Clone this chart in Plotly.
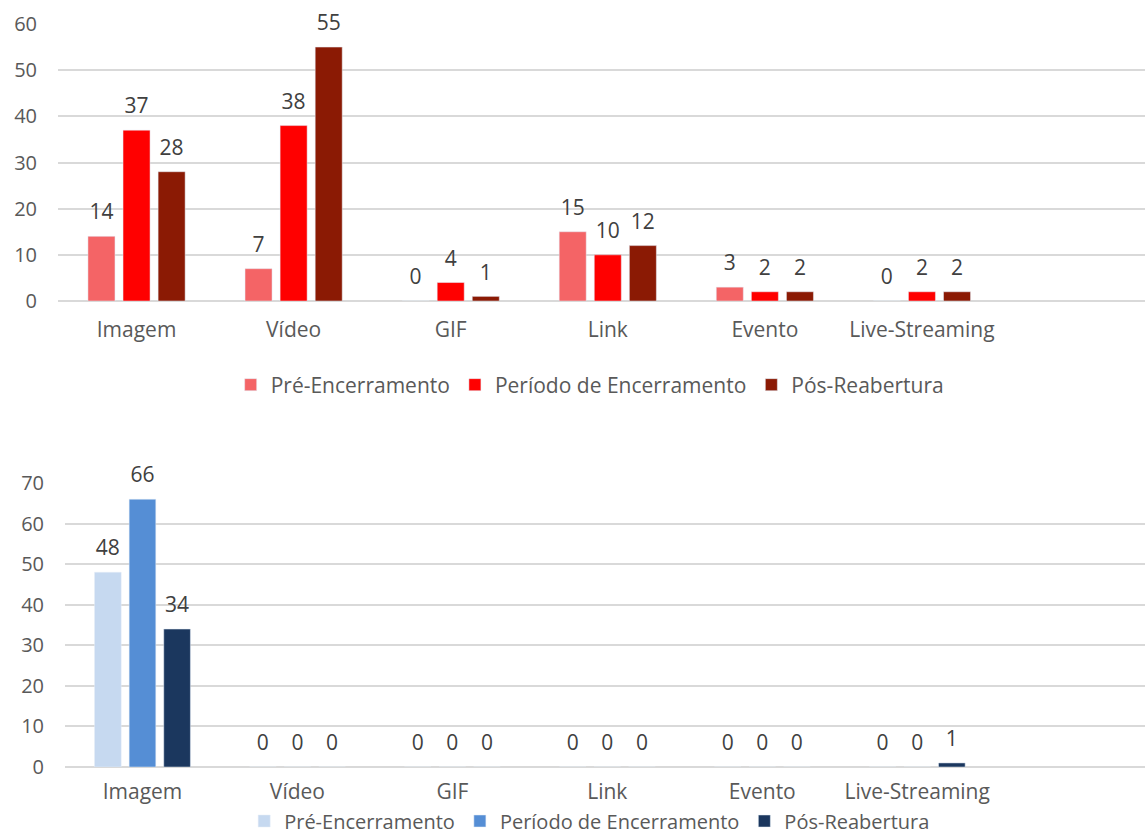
import plotly.graph_objects as go

# Categories and series
categorias = ["Imagem", "Vídeo", "GIF", "Link", "Evento", "Live-Streaming"]
periodos = ["Pré-Encerramento", "Período de Encerramento", "Pós-Reabertura"]

sup_pre = [14, 7, 0, 15, 3, 0]
sup_enc = [37, 38, 4, 10, 2, 2]
sup_pos = [28, 55, 1, 12, 2, 2]

inf_pre = [48, 0, 0, 0, 0, 0]
inf_enc = [66, 0, 0, 0, 0, 0]
inf_pos = [34, 0, 0, 0, 0, 1]

cores_sup = ["#F46466", "#FF0000", "#8B1A04"]
cores_inf = ["#C6D9F0", "#558ED5", "#1B375E"]

W, H = 1145, 834
FONT = "Open Sans"
FS = 21
TXT = "#595959"
GRID = "#D9D9D9"

fig = go.Figure()


def add_group(series, cores, xa, ya, legend):
    for nome, vals, cor in zip(periodos, series, cores):
        fig.add_trace(go.Bar(
            x=categorias, y=vals, name=nome, marker_color=cor,
            xaxis=xa, yaxis=ya, legend=legend, hoverinfo="skip",
        ))
    # value labels, grouped like the bars
    for nome, vals in zip(periodos, series):
        fig.add_trace(go.Scatter(
            x=categorias, y=vals, mode="markers+text", text=[str(v) for v in vals],
            textposition="top center", marker=dict(size=17, opacity=0),
            textfont=dict(family=FONT, size=FS, color="#404040"),
            xaxis=xa, yaxis=ya, showlegend=False, hoverinfo="skip",
            cliponaxis=False,
        ))


add_group([sup_pre, sup_enc, sup_pos], cores_sup, "x", "y", "legend")
add_group([inf_pre, inf_enc, inf_pos], cores_inf, "x2", "y2", "legend2")


def yax(dom, rmax, anchor):
    return dict(domain=dom, range=[0, rmax], dtick=10, anchor=anchor, showgrid=True,
                gridcolor=GRID, gridwidth=1.5, zeroline=True, zerolinecolor=GRID,
                zerolinewidth=1.5, showline=False, ticks="", ticklabelstandoff=20,
                tickfont=dict(family=FONT, size=FS - 1, color=TXT), fixedrange=True)


def xax(dom, rmax, anchor, standoff):
    return dict(domain=dom, range=[-0.5, rmax], anchor=anchor, showgrid=False,
                showline=False, ticks="", ticklabelstandoff=standoff,
                tickfont=dict(family=FONT, size=FS, color=TXT), fixedrange=True)


def leg(y, size):
    return dict(orientation="h", x=0.515, xanchor="center", y=y, yanchor="middle",
                font=dict(family=FONT, size=size, color=TXT), itemwidth=30,
                bgcolor="rgba(0,0,0,0)")


fig.update_layout(
    width=W, height=H,
    margin=dict(l=0, r=0, t=0, b=0, autoexpand=False),
    paper_bgcolor="white", plot_bgcolor="white",
    barmode="group", bargap=0.33, bargroupgap=0.23,
    scattermode="group",
    xaxis=xax([58 / W, 1], 6.42, "y", 14),
    yaxis=yax([1 - 301 / H, 1 - 24 / H], 60, "x"),
    xaxis2=xax([65 / W, 1], 6.47, "y2", 10),
    yaxis2=yax([1 - 767 / H, 1 - 483 / H], 70, "x2"),
    legend=leg(1 - 385 / H, FS),
    legend2=leg(1 - 821 / H, FS - 1),
    showlegend=True,
)

fig.write_html("out.html")
